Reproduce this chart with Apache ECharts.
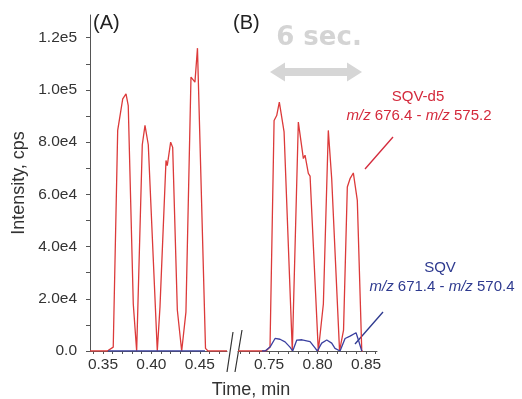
<!DOCTYPE html>
<html><head><meta charset="utf-8">
<script src="https://cdn.jsdelivr.net/npm/echarts@6/dist/echarts.min.js"></script>
<style>html,body{margin:0;padding:0;background:#fff}#c{width:522px;height:399px}</style>
</head><body><div id="c"></div>
<script>
// Panel A (SQV-d5 red, SQV blue)
const redA_t = [0.3366,0.3545,0.3606,0.3652,0.3704,0.3738,0.3761,0.3813,0.3848,0.3906,0.3934,0.3968,0.4061,0.4089,0.4151,0.4164,0.4199,0.4220,0.4268,0.4313,0.4357,0.4409,0.4450,0.4476,0.4559,0.4585,0.4781];
const redA_v = [0,0,1500,84500,96600,98500,94000,18000,0,79000,86400,79000,0,17000,73000,71000,80000,78000,15700,0,15000,104900,103000,116000,1000,0,0];
const blueA_t = [0.3552,0.3800,0.4000,0.4300,0.4554];
const blueA_v = [0,0,0,0,0];
// Panel B
const redB_t = [0.7180,0.7469,0.7510,0.7552,0.7579,0.7606,0.7655,0.7740,0.7802,0.7854,0.7871,0.7905,0.7923,0.8008,0.8060,0.8111,0.8146,0.8227,0.8268,0.8307,0.8335,0.8369,0.8410,0.8456,0.8466];
const redB_v = [0,0,1500,88300,90200,95300,83900,0,87700,73700,75000,68000,67000,0,18000,84500,66000,0,8000,62800,66000,68200,57700,0,0];
const blueB_t = [0.7428,0.7459,0.7510,0.7562,0.7613,0.7665,0.7716,0.7744,0.7786,0.7840,0.7923,0.7974,0.7998,0.8043,0.8095,0.8146,0.8180,0.8232,0.8284,0.8335,0.8397,0.8423,0.8456];
const blueB_v = [0,0,1500,4800,4500,3500,1500,0,4200,4300,3600,1200,0,3000,4200,3000,1000,0,4800,5700,7000,4000,0];
// Axis ticks / labels
const yLabels = [0,20000,40000,60000,80000,100000,120000];
const yLabelText = {0:'0.0',20000:'2.0e4',40000:'4.0e4',60000:'6.0e4',80000:'8.0e4',100000:'1.0e5',120000:'1.2e5'};
const yTicks = [0,10000,20000,30000,40000,50000,60000,70000,80000,90000,100000,110000,120000];
const xLabelsA = [0.35,0.40,0.45];
const xTicksA = [0.34,0.35,0.36,0.37,0.38,0.39,0.40,0.41,0.42,0.43,0.44,0.45,0.46,0.47];
const xLabelsB = [0.75,0.80,0.85];
const xTicksB = [0.72,0.73,0.74,0.75,0.76,0.77,0.78,0.79,0.80,0.81,0.82,0.83,0.84,0.85,0.86];

const RED='#dc3a3a', BLUE='#3b40a0', RED_T='#d42a3c', BLUE_T='#2e3a8f';
const zip=(t,v)=>t.map((x,i)=>[x,v[i]]);
const font='"Liberation Sans", Arial, sans-serif';

const axisX = (idx,min,max,labels,ticks)=>({
  type:'value', gridIndex:idx, min:min, max:max,
  axisLine:{show:true,onZero:false,lineStyle:{color:'#555',width:1}},
  axisTick:{show:true,length:3,customValues:ticks,lineStyle:{color:'#555'}},
  axisLabel:{customValues:labels,formatter:v=>v.toFixed(2),color:'#333',fontSize:15.5,fontFamily:font,margin:6},
  splitLine:{show:false}
});
const YMAX=128700;
const chart = echarts.init(document.getElementById('c'),null,{renderer:'canvas'});
chart.setOption({
  animation:false,
  backgroundColor:'#fff',
  grid:[{left:90,top:15,width:137,bottom:48},{left:238,top:15,width:139,bottom:48}],
  xAxis:[axisX(0,0.3366,0.4781,xLabelsA,xTicksA),axisX(1,0.718,0.8613,xLabelsB,xTicksB)],
  yAxis:[{type:'value',gridIndex:0,min:0,max:YMAX,
    name:'Intensity, cps',nameLocation:'middle',nameGap:62,nameRotate:90,
    nameTextStyle:{fontSize:18,color:'#333',fontFamily:font},
    axisLine:{show:true,lineStyle:{color:'#555'}},
    axisTick:{show:true,length:4,customValues:yTicks,lineStyle:{color:'#555'}},
    axisLabel:{customValues:yLabels,formatter:v=>yLabelText[v]||'',color:'#333',fontSize:15.5,fontFamily:font,margin:13},
    splitLine:{show:false}},
    {type:'value',gridIndex:1,min:0,max:YMAX,show:false,splitLine:{show:false}}],
  series:[
    {type:'line',xAxisIndex:0,yAxisIndex:0,data:zip(blueA_t,blueA_v),symbol:'none',lineStyle:{color:BLUE,width:1.3},z:3},
    {type:'line',xAxisIndex:0,yAxisIndex:0,data:zip(redA_t,redA_v),symbol:'none',lineStyle:{color:RED,width:1.3},z:2},
    {type:'line',xAxisIndex:1,yAxisIndex:1,data:zip(redB_t,redB_v),symbol:'none',lineStyle:{color:RED,width:1.3},z:2},
    {type:'line',xAxisIndex:1,yAxisIndex:1,data:zip(blueB_t,blueB_v),symbol:'none',lineStyle:{color:BLUE,width:1.3},z:3}
  ],
  graphic:[
    {type:'text',left:93,top:13,style:{text:'(A)',fontSize:20,fill:'#222',font:'20px '+font}},
    {type:'text',left:233,top:13,style:{text:'(B)',fontSize:20,fill:'#222',font:'20px '+font}},
    {type:'text',x:319,y:38,style:{text:'6 sec.',fill:'#d4d4d4',font:'bold 26px "DejaVu Sans", sans-serif',align:'center',verticalAlign:'middle'}},
    {type:'polygon',shape:{points:[[270,72],[285,62.5],[285,68],[347,68],[347,62.5],[362,72],[347,81.5],[347,76],[285,76],[285,81.5]]},style:{fill:'#d6d6d6'}},
    {type:'text',x:418,y:97,style:{text:'SQV-d5',fill:RED_T,font:'15px '+font,align:'center',verticalAlign:'middle'}},
    {type:'text',x:419,y:116,style:{text:'{i|m/z} 676.4 - {i|m/z} 575.2',fill:RED_T,font:'15px '+font,align:'center',verticalAlign:'middle',rich:{i:{fontStyle:'italic',fill:RED_T,fontSize:15,fontFamily:font}}}},
    {type:'line',shape:{x1:393,y1:137,x2:365,y2:169},style:{stroke:'#d42a3c',lineWidth:1.3}},
    {type:'text',x:440,y:268,style:{text:'SQV',fill:BLUE_T,font:'15px '+font,align:'center',verticalAlign:'middle'}},
    {type:'text',x:442,y:287,style:{text:'{i|m/z} 671.4 - {i|m/z} 570.4',fill:BLUE_T,font:'15px '+font,align:'center',verticalAlign:'middle',rich:{i:{fontStyle:'italic',fill:BLUE_T,fontSize:15,fontFamily:font}}}},
    {type:'line',shape:{x1:383,y1:312,x2:355,y2:344},style:{stroke:BLUE_T,lineWidth:1.3}},
    {type:'line',shape:{x1:233,y1:332,x2:227,y2:372},style:{stroke:'#333',lineWidth:1.2}},
    {type:'line',shape:{x1:242,y1:330,x2:235,y2:372},style:{stroke:'#333',lineWidth:1.2}},
    {type:'text',x:251,y:390,style:{text:'Time, min',fill:'#333',font:'18px '+font,align:'center',verticalAlign:'middle'}}
  ]
});
</script></body></html>
